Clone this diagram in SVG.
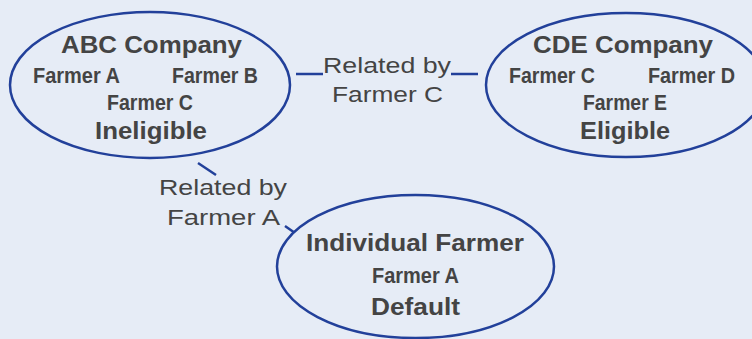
<svg xmlns="http://www.w3.org/2000/svg" width="752" height="339" viewBox="0 0 752 339">
<style>
.bg{fill:#e6ecf6}
.node{fill:#e6ecf6;stroke:#22409a;stroke-width:2.5}
.conn{stroke:#22409a;stroke-width:2.5;fill:none}
text{font-family:"Liberation Sans",Arial,sans-serif;fill:#444444}
.t{font-size:24.5px;font-weight:bold}
.f{font-size:21.5px;font-weight:bold}
.l{font-size:22.5px}
</style>
<rect class="bg" x="0" y="0" width="752" height="339"/>
<g id="connectors">
<line class="conn" x1="296" y1="74" x2="323" y2="74"/>
<line class="conn" x1="451" y1="74" x2="478" y2="74"/>
<line class="conn" x1="198" y1="163" x2="216" y2="175"/>
<line class="conn" x1="285" y1="226" x2="295" y2="233"/>
<text class="l" x="323" y="73" textLength="128" lengthAdjust="spacingAndGlyphs">Related by</text>
<text class="l" x="332" y="102" textLength="111" lengthAdjust="spacingAndGlyphs">Farmer C</text>
<text class="l" x="159" y="195" textLength="128" lengthAdjust="spacingAndGlyphs">Related by</text>
<text class="l" x="167" y="225" textLength="113" lengthAdjust="spacingAndGlyphs">Farmer A</text>
</g>
<g id="abc">
<ellipse class="node" cx="150" cy="85" rx="140" ry="73"/>
<text class="t" x="61" y="53" textLength="181" lengthAdjust="spacingAndGlyphs">ABC Company</text>
<text class="f" x="33" y="83" textLength="87" lengthAdjust="spacingAndGlyphs">Farmer A</text>
<text class="f" x="172" y="83" textLength="86" lengthAdjust="spacingAndGlyphs">Farmer B</text>
<text class="f" x="107" y="110" textLength="86" lengthAdjust="spacingAndGlyphs">Farmer C</text>
<text class="t" x="95" y="139" textLength="112" lengthAdjust="spacingAndGlyphs">Ineligible</text>
</g>
<g id="cde">
<ellipse class="node" cx="626" cy="85" rx="140" ry="72"/>
<text class="t" x="533" y="53" textLength="180" lengthAdjust="spacingAndGlyphs">CDE Company</text>
<text class="f" x="509" y="83" textLength="86" lengthAdjust="spacingAndGlyphs">Farmer C</text>
<text class="f" x="648" y="83" textLength="87" lengthAdjust="spacingAndGlyphs">Farmer D</text>
<text class="f" x="583" y="110" textLength="84" lengthAdjust="spacingAndGlyphs">Farmer E</text>
<text class="t" x="580" y="139" textLength="90" lengthAdjust="spacingAndGlyphs">Eligible</text>
</g>
<g id="individual">
<ellipse class="node" cx="415.5" cy="266.5" rx="138.5" ry="71.5"/>
<text class="t" x="306" y="251" textLength="218" lengthAdjust="spacingAndGlyphs">Individual Farmer</text>
<text class="f" x="372" y="283" textLength="87" lengthAdjust="spacingAndGlyphs">Farmer A</text>
<text class="t" x="371" y="315" textLength="89" lengthAdjust="spacingAndGlyphs">Default</text>
</g>
</svg>
